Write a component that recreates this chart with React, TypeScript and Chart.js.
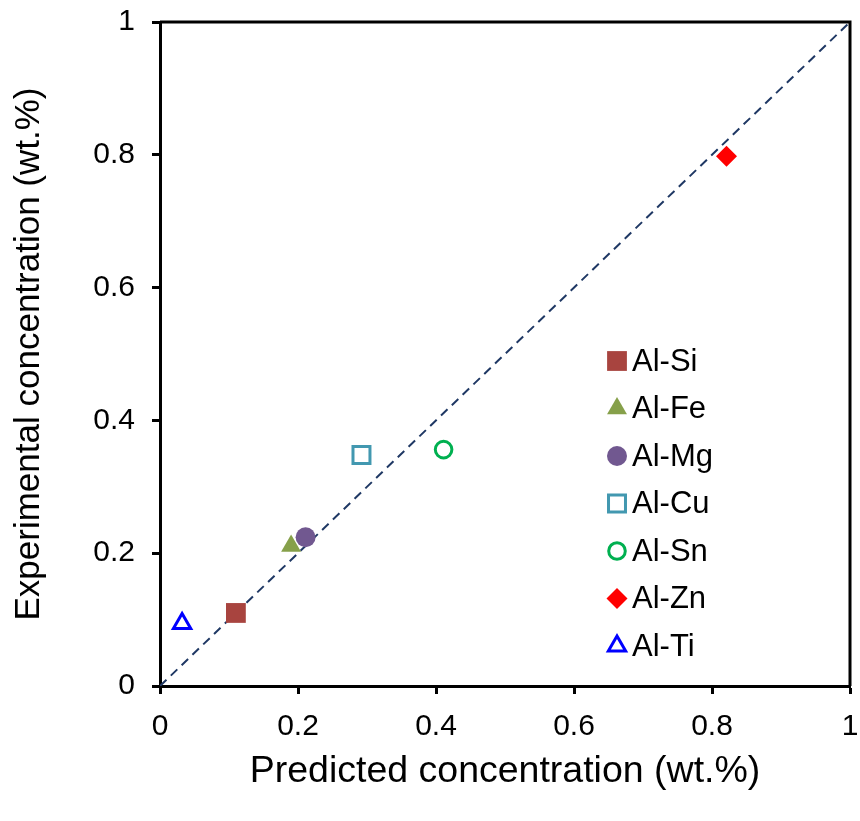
import React, { useEffect, useRef } from "react";
import { Chart, registerables } from "chart.js";

Chart.register(...registerables);

const seriesNames = ["Al-Si", "Al-Fe", "Al-Mg", "Al-Cu", "Al-Sn", "Al-Zn", "Al-Ti"];
const predicted = [0.11, 0.19, 0.211, 0.292, 0.411, 0.821, 0.032];
const experimental = [0.11, 0.211, 0.224, 0.348, 0.356, 0.798, 0.094];
const markerStyles = ["rect", "triangle", "circle", "rect", "circle", "rectRot", "triangle"];
const markerColors = ["#A8443F", "#86A04A", "#715890", "#4298B0", "#00B050", "#FF0000", "#0000FF"];
const markerFilled = [true, true, true, false, false, true, false];
const markerRadius = [14, 11.5, 10, 12, 8.3, 10.5, 10];
const tickValues = [0, 0.2, 0.4, 0.6, 0.8, 1];
const tickLabels = ["0", "0.2", "0.4", "0.6", "0.8", "1"];
const xTitle = "Predicted concentration (wt.%)";
const yTitle = "Experimental concentration (wt.%)";

const FONT = "'Liberation Sans', Arial, sans-serif";

function drawMarker(ctx: CanvasRenderingContext2D, style: string, x: number, y: number, r: number, color: string, filled: boolean) {
  ctx.save();
  ctx.beginPath();
  if (style === "rect") {
    const s = Math.SQRT1_2 * r;
    ctx.rect(x - s, y - s, 2 * s, 2 * s);
  } else if (style === "circle") {
    ctx.arc(x, y, r, 0, Math.PI * 2);
  } else if (style === "triangle") {
    ctx.moveTo(x, y - r);
    ctx.lineTo(x + r * Math.sin((2 * Math.PI) / 3), y + r / 2);
    ctx.lineTo(x - r * Math.sin((2 * Math.PI) / 3), y + r / 2);
    ctx.closePath();
  } else if (style === "rectRot") {
    ctx.moveTo(x - r, y);
    ctx.lineTo(x, y - r);
    ctx.lineTo(x + r, y);
    ctx.lineTo(x, y + r);
    ctx.closePath();
  }
  if (filled) {
    ctx.fillStyle = color;
    ctx.fill();
  } else {
    ctx.strokeStyle = color;
    ctx.lineWidth = 3;
    ctx.stroke();
  }
  ctx.restore();
}

const framePlugin = {
  id: "frame",
  afterDraw(chart: any) {
    const { ctx, chartArea } = chart;
    ctx.save();
    ctx.strokeStyle = "#000";
    ctx.lineWidth = 3;
    ctx.beginPath();
    ctx.moveTo(chartArea.left, chartArea.top);
    ctx.lineTo(chartArea.right, chartArea.top);
    ctx.lineTo(chartArea.right, chartArea.bottom);
    ctx.stroke();
    ctx.restore();
  },
};

const legendPlugin = {
  id: "customLegend",
  afterDraw(chart: any) {
    const { ctx, scales } = chart;
    const x0 = scales.x.left + 457;
    const y0 = scales.y.top + 339;
    const step = 47.5;
    ctx.save();
    ctx.font = `31px ${FONT}`;
    ctx.textAlign = "left";
    ctx.textBaseline = "middle";
    ctx.fillStyle = "#000";
    seriesNames.forEach((name, i) => {
      const y = y0 + i * step;
      drawMarker(ctx, markerStyles[i], x0, y, markerRadius[i], markerColors[i], markerFilled[i]);
      ctx.fillStyle = "#000";
      ctx.fillText(name, x0 + 15, y + 1);
    });
    ctx.restore();
  },
};

export default function App() {
  const ref = useRef<HTMLCanvasElement | null>(null);

  useEffect(() => {
    document.body.style.margin = "0";
    document.body.style.overflow = "hidden";
    const canvas = ref.current;
    if (!canvas) return;

    const pointDatasets = seriesNames.map((name, i) => ({
      type: "scatter" as const,
      label: name,
      data: [{ x: predicted[i], y: experimental[i] }],
      pointStyle: markerStyles[i],
      pointRadius: markerRadius[i],
      pointHoverRadius: markerRadius[i],
      backgroundColor: markerFilled[i] ? markerColors[i] : "rgba(0,0,0,0)",
      borderColor: markerColors[i],
      borderWidth: markerFilled[i] ? 0 : 3,
      order: 1,
    }));

    const fmt = (v: any) => {
      const idx = tickValues.findIndex((t) => Math.abs(t - Number(v)) < 1e-9);
      return idx >= 0 ? tickLabels[idx] : "";
    };

    const chart = new Chart(canvas, {
      type: "scatter",
      data: {
        datasets: [
          ...pointDatasets,
          {
            type: "line" as const,
            label: "y = x",
            data: [
              { x: 0, y: 0 },
              { x: 1, y: 1 },
            ],
            borderColor: "#1F3864",
            borderWidth: 2,
            borderDash: [9, 6],
            pointRadius: 0,
            fill: false,
            order: 10,
          } as any,
        ],
      },
      options: {
        responsive: false,
        animation: false,
        layout: { padding: { top: 22, right: 4, left: 0, bottom: 0 } },
        plugins: {
          legend: { display: false },
          tooltip: { enabled: false },
        },
        scales: {
          x: {
            type: "linear",
            min: 0,
            max: 1,
            afterBuildTicks: (s: any) => {
              s.ticks = tickValues.map((v) => ({ value: v }));
            },
            afterFit: (s: any) => {
              s.height = 135;
              s.paddingLeft = 0;
              s.paddingRight = 0;
            },
            ticks: {
              color: "#000",
              font: { family: FONT, size: 30 },
              padding: 15,
              maxRotation: 0,
              callback: fmt,
            },
            grid: {
              display: true,
              drawOnChartArea: false,
              drawTicks: true,
              tickLength: 8,
              tickWidth: 3,
              tickColor: "#000",
            },
            border: { display: true, color: "#000", width: 3 },
            title: {
              display: true,
              text: xTitle,
              color: "#000",
              font: { family: FONT, size: 37.5 },
              padding: { top: 0, bottom: 27 },
            },
          },
          y: {
            type: "linear",
            min: 0,
            max: 1,
            afterBuildTicks: (s: any) => {
              s.ticks = tickValues.map((v) => ({ value: v }));
            },
            afterFit: (s: any) => {
              s.width = 160;
              s.paddingTop = 0;
              s.paddingBottom = 0;
            },
            ticks: {
              color: "#000",
              font: { family: FONT, size: 30 },
              padding: 17,
              callback: fmt,
            },
            grid: {
              display: true,
              drawOnChartArea: false,
              drawTicks: true,
              tickLength: 8,
              tickWidth: 3,
              tickColor: "#000",
            },
            border: { display: true, color: "#000", width: 3 },
            title: {
              display: true,
              text: yTitle,
              color: "#000",
              font: { family: FONT, size: 35 },
              padding: { top: 8, bottom: 0 },
            },
          },
        },
      } as any,
      plugins: [framePlugin, legendPlugin],
    });

    return () => chart.destroy();
  }, []);

  return (
    <div style={{ width: 860, height: 821, overflow: "hidden" }}>
      <canvas ref={ref} width={865} height={821} style={{ display: "block" }} />
    </div>
  );
}
